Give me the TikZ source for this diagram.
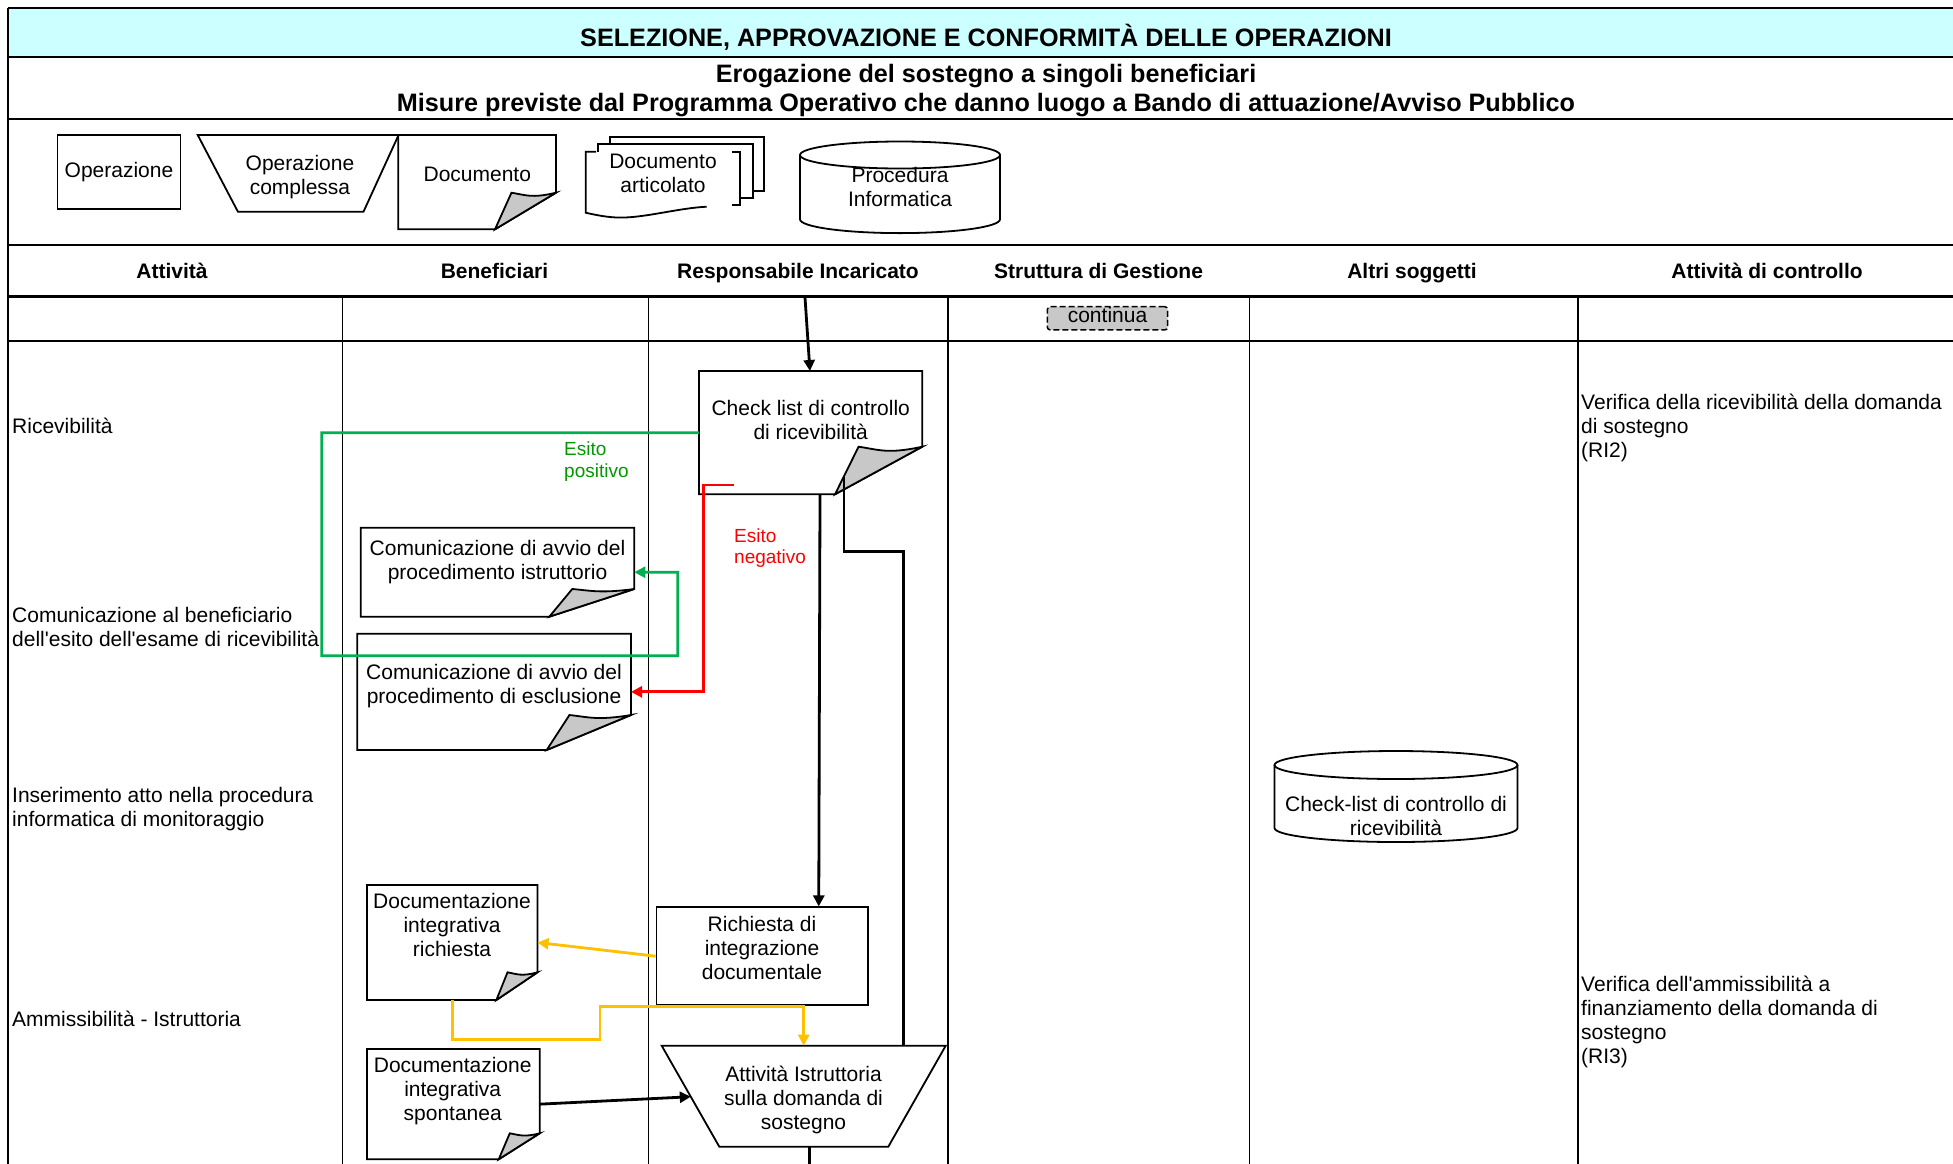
\documentclass[tikz,border=0pt]{standalone}
\usepackage{fontspec}
\setmainfont[Ligatures=TeXOff]{Liberation Sans}
\usetikzlibrary{arrows.meta,calc}

\definecolor{titlecyan}{HTML}{CCFFFF}
\definecolor{linegreen}{HTML}{00B050}
\definecolor{textgreen}{HTML}{009900}
\definecolor{lineyellow}{HTML}{FFC000}
\definecolor{linered}{HTML}{FF0000}
\definecolor{curlgray}{HTML}{C8C8C8}

\newcommand\fsbody{\fontsize{21}{24}\selectfont}
\newcommand\fshdr{\fontsize{21}{24}\selectfont\bfseries}
\newcommand\fstitle{\fontsize{25.2}{29}\selectfont\bfseries}
\newcommand\fsesito{\fontsize{19}{21.5}\selectfont}

% name, x1, y1, x2, y2, bottom x of fold, right y of fold
\newcommand\docbox[7]{%
  \node[shapebox, minimum width={#4-#2}, minimum height={#5-#3}] (#1) at ({(#2+#4)/2},{(#3+#5)/2}) {};
  \draw[boxline, fill=white] (#2,#3) -- (#4,#3) -- (#4,#7) -- (#6,#5) -- (#2,#5) -- cycle;
  \filldraw[boxline, fill=curlgray] (#4,#7) .. controls ({#4-0.4*(#4-#6)},{#7+0.16*(#5-#7)}) and ({#6+0.5*(#4-#6)},{#7+0.06*(#5-#7)}) .. ({#6+0.27*(#4-#6)},#7) -- (#6,#5) -- cycle;
}

\begin{document}
\begin{tikzpicture}[x=1pt,y=-1pt,
  txt/.style={font=\fsbody, inner sep=0pt, align=center},
  one/.style={text height=15pt, text depth=4.5pt},
  ltxt/.style={font=\fsbody, inner sep=0pt, align=left, anchor=west},
  hdr/.style={font=\fshdr, inner sep=0pt, text height=15pt, text depth=4.5pt},
  tbl/.style={line width=1.6pt},
  tblthick/.style={line width=3pt},
  boxline/.style={line width=1.8pt, line join=miter},
  shapebox/.style={draw=none, inner sep=0pt, outer sep=0pt, rectangle},
  conn/.style={line width=2.8pt, -{Triangle[length=11pt,width=11pt]}},
  plainconn/.style={line width=2.8pt},
]
\useasboundingbox (0,0) rectangle (1953,1163);
\clip (0,0) rectangle (1953,1163);
\fill[white] (0,0) rectangle (1953,1163);

% ---------- table ----------
\fill[titlecyan] (8,8) rectangle (1956,57);
\draw[tbl] (8,8) -- (1956,8);
\draw[tbl] (8,57) -- (1956,57);
\draw[tbl] (8,119) -- (1956,119);
\draw[tbl] (8,245) -- (1956,245);
\draw[tblthick] (8,296.5) -- (1956,296.5);
\draw[tbl] (8,341) -- (1956,341);
\draw[tbl] (8,8) -- (8,1175);
\draw[tbl] (1956,8) -- (1956,1175);
\foreach \cx in {342.5,648.5,948,1249.5,1578} {
  \draw[tbl] (\cx,296.5) -- (\cx,1175);
}

% ---------- titles ----------
\node[font=\fstitle, inner sep=0pt, text height=18pt, text depth=5pt] (title) at (986,40) {SELEZIONE, APPROVAZIONE E CONFORMITÀ DELLE OPERAZIONI};
\node[font=\fstitle, inner sep=0pt, align=center] (subtitle) at (986,91) {Erogazione del sostegno a singoli beneficiari\\Misure previste dal Programma Operativo che danno luogo a Bando di attuazione/Avviso Pubblico};

% ---------- legend ----------
\node[txt, one, draw, line width=1.8pt, minimum width=123.1pt, minimum height=74.3pt] (legop) at (119,172.2) {Operazione};
\draw[boxline] (197.7,135) -- (398.6,135) -- (363.5,211.7) -- (237.9,211.7) -- cycle;
\node[txt] (legopc) at (300,177.2) {Operazione\\complessa};
\docbox{legdoc}{398.3}{135}{556}{229.3}{495}{192.7}
\node[txt, one] (legdoc-t) at (477.3,176.5) {Documento};
% documento articolato
\draw[boxline] (610,144) -- (610,137.3) -- (764,137.3) -- (764,190.7) -- (752.7,190.7);
\draw[boxline] (598.3,151.7) -- (598.3,144) -- (752.7,144) -- (752.7,198.3) -- (740,198.3);
\draw[boxline] (596,151.7) -- (585.7,151.7) -- (585.7,212.7) .. controls (600,216) and (612,218) .. (625,217.5) .. controls (650,216.5) and (680,208) .. (706.7,206.7);
\draw[boxline] (731.7,151.7) -- (740,151.7) -- (740,205) -- (731.7,205);
\node[txt] (legart) at (663,173.3) {Documento\\articolato};
% procedura informatica
\draw[boxline] (900,155) ellipse [x radius=100pt, y radius=13.5pt];
\draw[boxline] (800,155) -- (800,219.3) arc[start angle=180, end angle=360, x radius=100pt, y radius=13.8pt] -- (1000,155);
\node[txt] (legcyl) at (900,186.7) {Procedura\\Informatica};

% ---------- column headers ----------
\node[hdr] (h1) at (172,273) {Attività};
\node[hdr] (h2) at (494.5,273) {Beneficiari};
\node[hdr] (h3) at (798,273) {Responsabile Incaricato};
\node[hdr] (h4) at (1098.5,273) {Struttura di Gestione};
\node[hdr] (h5) at (1412,273) {Altri soggetti};
\node[hdr] (h6) at (1767,273) {Attività di controllo};

% continua
\node[draw, dashed, dash pattern=on 6pt off 3pt, line width=1.5pt, fill=curlgray, rounded corners=3pt, minimum width=120.4pt, minimum height=23.3pt, inner sep=0pt] (cont) at (1107.5,318.3) {};
\node[txt, one] (cont-t) at (1107.5,317) {continua};

% ---------- left column texts ----------
\node[ltxt, one] (a1) at (12,428) {Ricevibilità};
\node[ltxt] (a2) at (12,627) {Comunicazione al beneficiario\\dell'esito dell'esame di ricevibilità};
\node[ltxt] (a3) at (12,809) {Inserimento atto nella procedura\\informatica di monitoraggio};
\node[ltxt, one] (a4) at (12,1021.5) {Ammissibilità - Istruttoria};

% ---------- right column texts ----------
\node[ltxt] (c1) at (1581,428) {Verifica della ricevibilità della domanda\\di sostegno\\(RI2)};
\node[ltxt] (c2) at (1581,1022) {Verifica dell'ammissibilità a\\finanziamento della domanda di\\sostegno\\(RI3)};

% ---------- flow shapes ----------
\docbox{chk}{699}{371}{922.3}{494.3}{835}{446.7}
\node[txt] (chk-t) at (810.7,420.3) {Check list di controllo\\di ricevibilità};

\docbox{istr}{360.7}{527.7}{634.3}{616.7}{549.3}{589}
\node[txt] (istr-t) at (497.5,562) {Comunicazione di avvio del\\procedimento istruttorio};

\docbox{escl}{357.3}{633.7}{631}{750}{546.7}{715}
\node[txt] (escl-t) at (494,686.5) {Comunicazione di avvio del\\procedimento di esclusione};

\docbox{docreq}{367}{885}{537.5}{1000}{496.4}{972.3}
\node[txt] (docreq-t) at (452,924.5) {Documentazione\\integrativa\\richiesta};

\docbox{spont}{367}{1049}{539.7}{1159.3}{498.7}{1133.3}
\node[txt] (spont-t) at (452.7,1091) {Documentazione\\integrativa\\spontanea};

\node[draw, line width=1.8pt, minimum width=211.5pt, minimum height=97.7pt, inner sep=0pt] (rich) at (762.25,956.15) {};
\node[txt] (rich-t) at (762,947.5) {Richiesta di\\integrazione\\documentale};

\node[shapebox, minimum width=284pt, minimum height=101pt] (trap) at (803.7,1096.2) {};
\draw[boxline, fill=white] (trap.north west) -- (trap.north east) -- ([xshift=-57.4pt]trap.south east) -- ([xshift=57.6pt]trap.south west) -- cycle;
\node[txt] (trap-t) at (803.5,1100) {Attività Istruttoria\\sulla domanda di\\sostegno};

% check-list cylinder
\draw[boxline] (1396,765) ellipse [x radius=121.5pt, y radius=14pt];
\draw[boxline] (1274.5,765) -- (1274.5,828) arc[start angle=180, end angle=360, x radius=121.5pt, y radius=14pt] -- (1517.5,765);
\node[txt] (cylalt) at (1396,815.7) {Check-list di controllo di\\ricevibilità};

% ---------- esito labels ----------
\node[font=\fsesito, inner sep=0pt, align=left, anchor=west, text=textgreen] (esp) at (564,461.5) {Esito\\positivo};
\node[font=\fsesito, inner sep=0pt, align=left, anchor=west, text=linered] (esn) at (734,548) {Esito\\negativo};

% ---------- connectors ----------
\coordinate (topin) at (805,297.5);
\draw[conn] (topin) -- ([xshift=-0.7pt]chk.north);

\draw[conn, draw=linegreen] (chk.west) -| (321.7,655.7) -| (677.7,572.3) -- (istr.east);

\draw[conn, draw=linered] ([xshift=35pt,yshift=9.3pt]chk.south west) -- ++(-30.7,0) |- (escl.east);

\draw[conn] ([xshift=9.35pt]chk.south) -- ([xshift=56.5pt]rich.north);

\draw[plainconn] ([xshift=145pt,yshift=17.6pt]chk.south west) -- ++(0,75) -| ([xshift=100pt]trap.north);

\draw[conn, draw=lineyellow] (rich.west) -- (docreq.east);

\draw[conn, draw=lineyellow] (docreq.south) -- ++(0,39.3) -| (600,1006.7) -| (trap.north);

\coordinate (trapL) at ($(trap.north west)!0.505!([xshift=57.6pt]trap.south west)$);
\draw[conn] (spont.east) -- (trapL);

\draw[plainconn] ([xshift=5.6pt]trap.south) -- ++(0,40);

\end{tikzpicture}
\end{document}
